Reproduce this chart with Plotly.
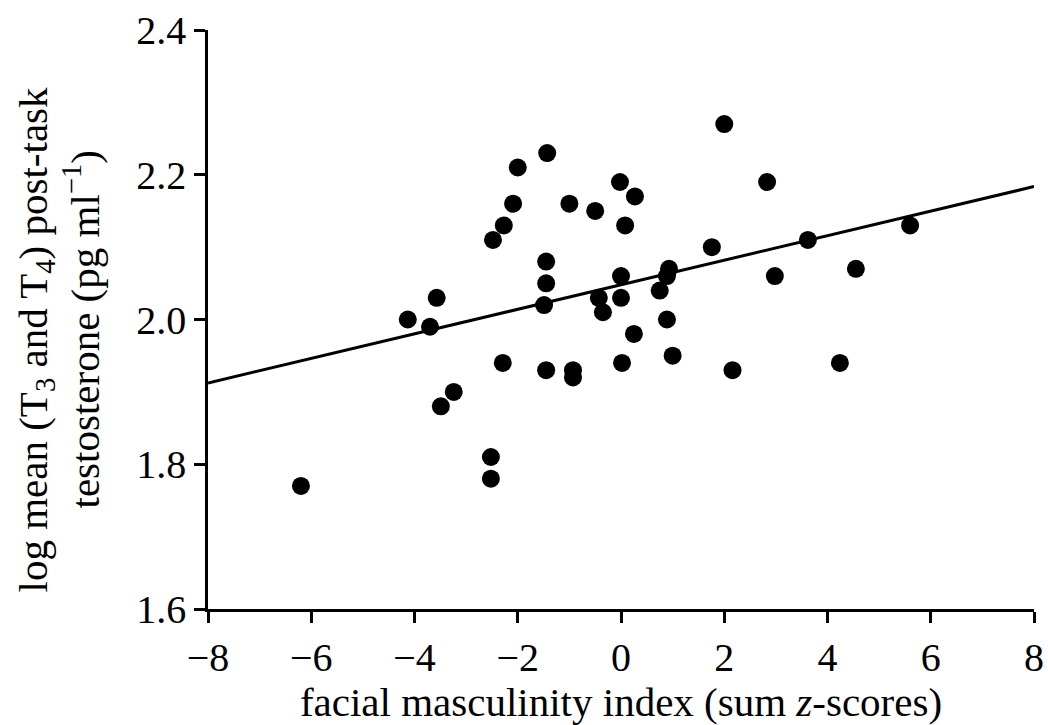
import plotly.graph_objects as go

masculinity = [-6.2, -4.13, -3.70, -3.57, -3.49, -3.24, -2.52, -2.52, -2.48, -2.27,
               -2.29, -2.09, -2.00, -1.43, -1.45, -1.45, -1.49, -1.45, -1.00, -0.93,
               -0.93, -0.50, -0.43, -0.35, -0.02, 0.00, 0.00, 0.02, 0.08, 0.27,
               0.25, 0.75, 0.89, 0.93, 0.89, 1.00, 1.76, 2.00, 2.16, 2.83,
               2.98, 3.62, 4.24, 4.55, 5.60]
testosterone = [1.77, 2.00, 1.99, 2.03, 1.88, 1.90, 1.81, 1.78, 2.11, 2.13,
                1.94, 2.16, 2.21, 2.23, 2.08, 2.05, 2.02, 1.93, 2.16, 1.93,
                1.92, 2.15, 2.03, 2.01, 2.19, 2.06, 2.03, 1.94, 2.13, 2.17,
                1.98, 2.04, 2.00, 2.07, 2.06, 1.95, 2.10, 2.27, 1.93, 2.19,
                2.06, 2.11, 1.94, 2.07, 2.13]

fit_intercept = 2.048
fit_slope = 0.01696
fit_x = [-8, 8]
fit_y = [fit_intercept + fit_slope * v for v in fit_x]

x_ticks = [-8, -6, -4, -2, 0, 2, 4, 6, 8]
y_ticks = [1.6, 1.8, 2.0, 2.2, 2.4]

x_title = "facial masculinity index (sum <i>z</i>-scores)"
y_title_lines = ["log mean (T<sub>3</sub> and T<sub>4</sub>) post-task",
                 "testosterone (pg ml<sup>\u22121</sup>)"]

fig = go.Figure()
fig.add_trace(go.Scatter(x=fit_x, y=fit_y, mode="lines",
                         line=dict(color="black", width=3), showlegend=False))
fig.add_trace(go.Scatter(x=masculinity, y=testosterone, mode="markers",
                         marker=dict(color="black", size=18), showlegend=False))

font_family = "Liberation Serif"
fig.update_layout(
    width=1048, height=725,
    paper_bgcolor="white", plot_bgcolor="white",
    margin=dict(l=208, r=14, t=30, b=116),
    font=dict(family=font_family, color="black", size=40),
)
fig.update_xaxes(
    range=[-8, 8], tickvals=x_ticks,
    ticktext=[str(v).replace("-", "\u2212") for v in x_ticks],
    tickfont=dict(size=40), automargin=False,
    showline=True, linecolor="black", linewidth=2.5,
    ticks="outside", ticklen=11, tickwidth=2.5, tickcolor="black",
    showgrid=False, zeroline=False,
    title=dict(text=x_title, font=dict(size=41), standoff=12),
)
fig.update_yaxes(
    range=[1.6, 2.4], tickvals=y_ticks, ticktext=[f"{v:.1f}" for v in y_ticks],
    tickfont=dict(size=40), automargin=False,
    showline=True, linecolor="black", linewidth=2.5,
    ticks="outside", ticklen=11, tickwidth=2.5, tickcolor="black",
    showgrid=False, zeroline=False,
)
for text, xs, ys in zip(y_title_lines, [-173, -127], [-20, -10]):
    fig.add_annotation(text=text, xref="paper", yref="paper", x=0, y=0.5,
                       xanchor="center", yanchor="middle", xshift=xs, yshift=ys,
                       textangle=-90, showarrow=False, font=dict(size=41))
fig.write_html("out.html", config={"displayModeBar": False},
               post_script="document.body.style.margin='0';document.body.style.overflow='hidden';")
